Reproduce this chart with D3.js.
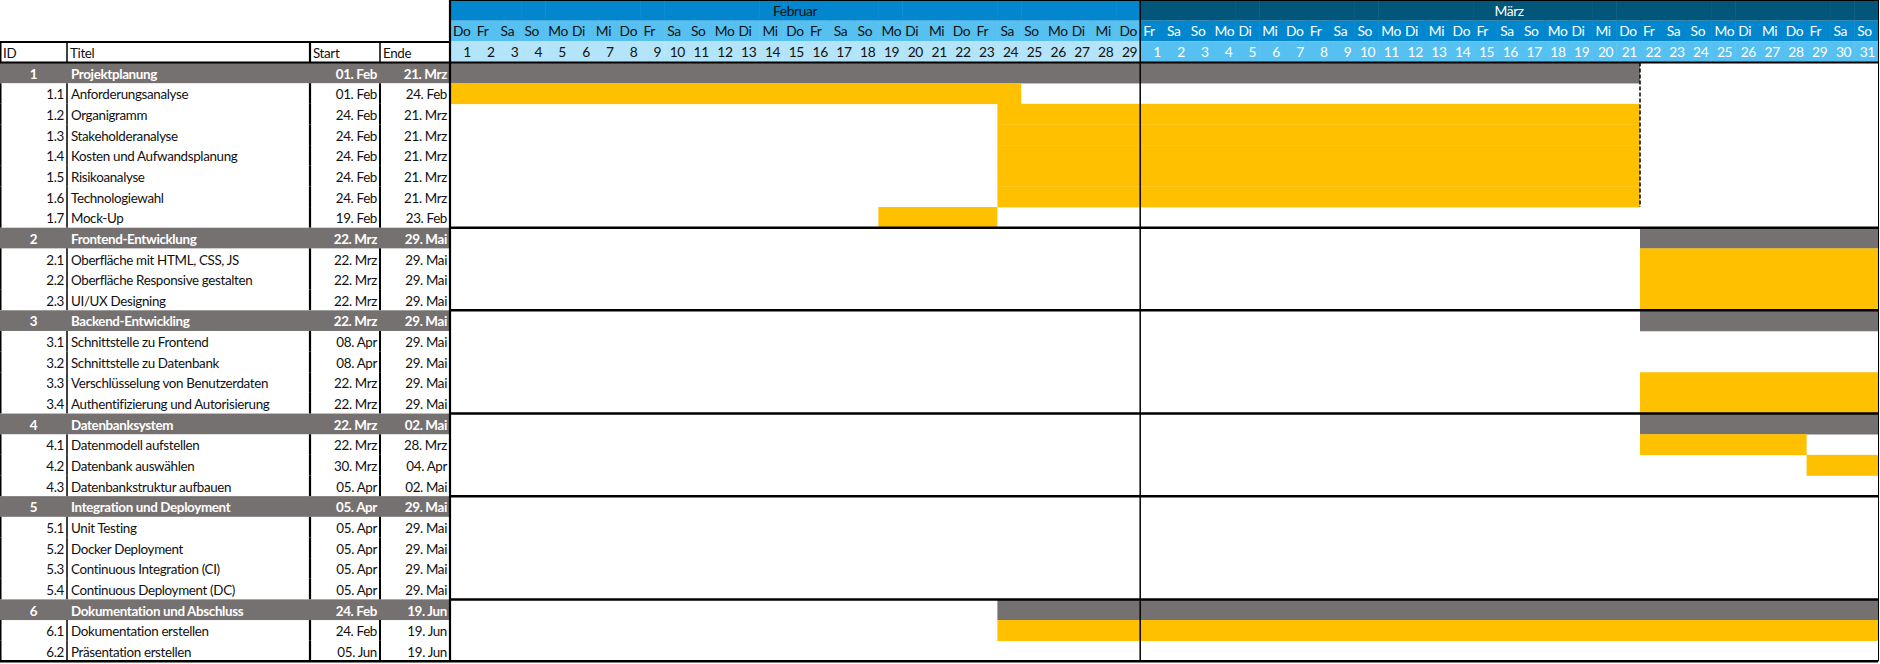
<!DOCTYPE html>
<html><head><meta charset="utf-8">
<script src="https://cdn.jsdelivr.net/npm/d3@7"></script>
<style>html,body{margin:0;padding:0;background:#fff;}svg{display:block;font-family:Lato,"Open Sans",sans-serif;}</style>
</head><body><svg id="c" width="1880" height="664"></svg>
<script>
const ids = ["1","1.1","1.2","1.3","1.4","1.5","1.6","1.7","2","2.1","2.2","2.3","3","3.1","3.2","3.3","3.4","4","4.1","4.2","4.3","5","5.1","5.2","5.3","5.4","6","6.1","6.2"];
const titles = ["Projektplanung","Anforderungsanalyse","Organigramm","Stakeholderanalyse","Kosten und Aufwandsplanung","Risikoanalyse","Technologiewahl","Mock-Up","Frontend-Entwicklung","Oberfläche mit HTML, CSS, JS","Oberfläche Responsive gestalten","UI/UX Designing","Backend-Entwickling","Schnittstelle zu Frontend","Schnittstelle zu Datenbank","Verschlüsselung von Benutzerdaten","Authentifizierung und Autorisierung","Datenbanksystem","Datenmodell aufstellen","Datenbank auswählen","Datenbankstruktur aufbauen","Integration und Deployment","Unit Testing","Docker Deployment","Continuous Integration (CI)","Continuous Deployment (DC)","Dokumentation und Abschluss","Dokumentation erstellen","Präsentation erstellen"];
const startLabels = ["01. Feb","01. Feb","24. Feb","24. Feb","24. Feb","24. Feb","24. Feb","19. Feb","22. Mrz","22. Mrz","22. Mrz","22. Mrz","22. Mrz","08. Apr","08. Apr","22. Mrz","22. Mrz","22. Mrz","22. Mrz","30. Mrz","05. Apr","05. Apr","05. Apr","05. Apr","05. Apr","05. Apr","24. Feb","24. Feb","05. Jun"];
const endLabels = ["21. Mrz","24. Feb","21. Mrz","21. Mrz","21. Mrz","21. Mrz","21. Mrz","23. Feb","29. Mai","29. Mai","29. Mai","29. Mai","29. Mai","29. Mai","29. Mai","29. Mai","29. Mai","02. Mai","28. Mrz","04. Apr","02. Mai","29. Mai","29. Mai","29. Mai","29. Mai","29. Mai","19. Jun","19. Jun","19. Jun"];
const isGroup = [1,0,0,0,0,0,0,0,1,0,0,0,1,0,0,0,0,1,0,0,0,1,0,0,0,0,1,0,0];
const barStart = ["2024-02-01","2024-02-01","2024-02-24","2024-02-24","2024-02-24","2024-02-24","2024-02-24","2024-02-19","2024-03-22","2024-03-22","2024-03-22","2024-03-22","2024-03-22","2024-04-08","2024-04-08","2024-03-22","2024-03-22","2024-03-22","2024-03-22","2024-03-29","2024-04-05","2024-04-05","2024-04-05","2024-04-05","2024-04-05","2024-04-05","2024-02-24","2024-02-24","2024-06-05"];
const barEnd = ["2024-03-21","2024-02-24","2024-03-21","2024-03-21","2024-03-21","2024-03-21","2024-03-21","2024-02-23","2024-05-29","2024-05-29","2024-05-29","2024-05-29","2024-05-29","2024-05-29","2024-05-29","2024-05-29","2024-05-29","2024-05-02","2024-03-28","2024-04-04","2024-05-02","2024-05-29","2024-05-29","2024-05-29","2024-05-29","2024-05-29","2024-06-19","2024-06-19","2024-06-19"];
const months = ["Februar","März"];
const monthStarts = ["2024-02-01","2024-03-01"];
const weekdayNames = ["So","Mo","Di","Mi","Do","Fr","Sa"];
const headers = ["ID","Titel","Start","Ende"];
const chartStart = "2024-02-01", chartEnd = "2024-04-01";
const todayLine = "2024-03-22";

const svg = d3.select("#c");
const parse = d3.utcParse("%Y-%m-%d");
const x = d3.scaleUtc().domain([parse(chartStart), parse(chartEnd)]).range([450, 1878]);
const days = d3.utcDays(parse(chartStart), parse(chartEnd));
const rowH = 20.65, y0 = 62.5;
const y = d3.scaleLinear().domain([0, ids.length]).range([y0, y0 + ids.length * rowH]);
const yBottom = y(ids.length);
const colX = [0, 67, 310, 380, 450];
const GRAY = "#767171", YEL = "#FFC000";
const monthCol = ["#0287CF", "#01567A"];
const dayCol = ["#56C0F1", "#0287CF"];
const numCol = ["#B4E4FA", "#56C0F1"];
const txtCol = ["#111", "#fff"];
const font = 13.4, ls = -0.35;

const T = (xx, yy, str, opt = {}) => svg.append("text").attr("x", xx).attr("y", yy)
  .attr("font-size", opt.size || font).attr("letter-spacing", ls)
  .attr("text-anchor", opt.anchor || "start").attr("font-weight", opt.bold ? "bold" : "normal")
  .attr("fill", opt.fill || "#111").text(str);

days.forEach(d => {
  const m = d.getUTCMonth() - 1;
  const xl = x(d), xr = x(d3.utcDay.offset(d, 1));
  svg.append("rect").attr("x", xl).attr("y", 0).attr("width", xr - xl + 0.5).attr("height", 20.7).attr("fill", monthCol[m]);
  svg.append("rect").attr("x", xl).attr("y", 20.7).attr("width", xr - xl + 0.5).attr("height", 20.7).attr("fill", dayCol[m]);
  svg.append("rect").attr("x", xl).attr("y", 41.4).attr("width", xr - xl + 0.5).attr("height", 21.1).attr("fill", numCol[m]);
});
days.forEach(d => {
  const m = d.getUTCMonth() - 1;
  const xl = x(d), xr = x(d3.utcDay.offset(d, 1));
  T(xl + 3, 36, weekdayNames[d.getUTCDay()], {fill: txtCol[m], size: 13.8});
  T(xr - 3, 57, d.getUTCDate(), {fill: txtCol[m], anchor: "end", size: 13.8});
});
months.forEach((mn, i) => {
  const a = parse(monthStarts[i]);
  const b = i + 1 < monthStarts.length ? parse(monthStarts[i + 1]) : parse(chartEnd);
  T((x(a) + x(b)) / 2, 15.5, mn, {fill: txtCol[i], anchor: "middle", size: 13.8});
});

headers.forEach((h, i) => T(colX[i] + 3, y0 - 4.5, h));

ids.forEach((id, i) => {
  const yt = y(i), yb = y(i + 1);
  const g = isGroup[i];
  if (g) {
    svg.append("rect").attr("x", 0).attr("y", yt).attr("width", 450).attr("height", rowH).attr("fill", GRAY);
  }
  const s = parse(barStart[i]), e = d3.utcDay.offset(parse(barEnd[i]), 1);
  const xs = Math.max(x(s), x.range()[0]), xe = Math.min(x(e), x.range()[1]);
  if (xe > xs) {
    svg.append("rect").attr("x", xs).attr("y", yt).attr("width", xe - xs).attr("height", rowH + 0.3).attr("fill", g ? GRAY : YEL);
  }
  const o = {fill: g ? "#fff" : "#111", bold: !!g};
  const by = yb - 4.5;
  T(g ? 33.5 : colX[1] - 3, by, id, {...o, anchor: g ? "middle" : "end"});
  T(colX[1] + 4, by, titles[i], o);
  T(colX[3] - 3, by, startLabels[i], {...o, anchor: "end"});
  T(colX[4] - 3, by, endLabels[i], {...o, anchor: "end"});
  if (!g) {
    [[0.75, 1.5], [67, 1.5], [310, 2.2], [380, 2]].forEach(([cx, w]) => {
      svg.append("line").attr("x1", cx).attr("x2", cx).attr("y1", yt).attr("y2", yb)
        .attr("stroke", "#000").attr("stroke-width", w);
    });
  }
});

const L = (x1, y1, x2, y2, w, dash) => {
  const l = svg.append("line").attr("x1", x1).attr("y1", y1).attr("x2", x2).attr("y2", y2).attr("stroke", "#000").attr("stroke-width", w);
  if (dash) l.attr("stroke-dasharray", dash);
};
L(0, 42, 450, 42, 2.2);
[0.75, 67, 310, 380].forEach(cx => L(cx, 42, cx, y0, cx === 310 ? 2.2 : 1.5));
L(0, y0, 1878, y0, 2.2);
L(450, 0.5, 1878, 0.5, 1);
monthStarts.slice(1).forEach(ms => L(x(parse(ms)), 0, x(parse(ms)), yBottom, 1.5));
L(450, 0, 450, yBottom, 2.2);
L(1878.5, 0, 1878.5, yBottom, 1);
isGroup.forEach((g, i) => { if (g && i > 0) L(450, y(i), 1878, y(i), 2.5); });
L(0, yBottom, 1878, yBottom, 2.5);
L(x(parse(todayLine)), y0, x(parse(todayLine)), y(7), 1.5, "4,2");
</script></body></html>
